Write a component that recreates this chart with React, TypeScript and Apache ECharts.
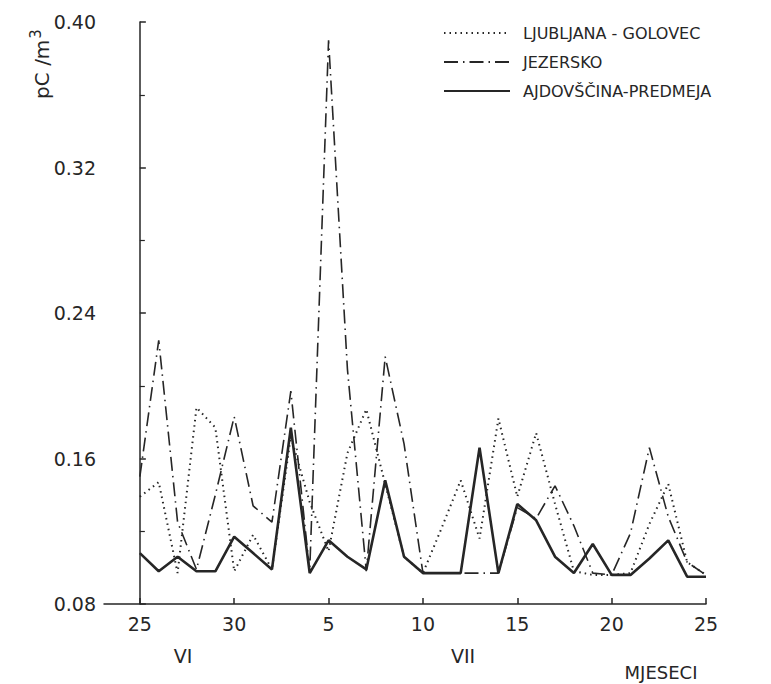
import React, { useEffect, useRef } from "react";
import * as echarts from "echarts";

const DAYS: string[] = [
  "25", "26", "27", "28", "29", "30",
  "1", "2", "3", "4", "5", "6", "7", "8", "9", "10",
  "11", "12", "13", "14", "15", "16", "17", "18", "19", "20",
  "21", "22", "23", "24", "25",
];

const TICK_INDEXES: number[] = [0, 5, 10, 15, 20, 25, 30];

const LJUBLJANA: number[] = [
  0.139, 0.147, 0.097, 0.188, 0.177, 0.098, 0.118, 0.099, 0.172, 0.136,
  0.109, 0.163, 0.187, 0.146, 0.106, 0.097, 0.122, 0.148, 0.116, 0.182,
  0.139, 0.174, 0.135, 0.098, 0.096, 0.096, 0.097, 0.124, 0.146, 0.103,
  0.096,
];

const JEZERSKO: number[] = [
  0.150, 0.225, 0.125, 0.099, 0.140, 0.183, 0.134, 0.125, 0.197, 0.098,
  0.390, 0.209, 0.098, 0.216, 0.168, 0.097, 0.097, 0.097, 0.097, 0.097,
  0.133, 0.127, 0.145, 0.123, 0.097, 0.096, 0.119, 0.166, 0.128, 0.103,
  0.096,
];

const AJDOVSCINA: number[] = [
  0.108, 0.098, 0.106, 0.098, 0.098, 0.117, 0.108, 0.099, 0.177, 0.097,
  0.115, 0.106, 0.099, 0.148, 0.106, 0.097, 0.097, 0.097, 0.166, 0.097,
  0.135, 0.126, 0.106, 0.097, 0.113, 0.096, 0.096, 0.105, 0.115, 0.095,
  0.095,
];

const SERIES_NAMES = ["LJUBLJANA - GOLOVEC", "JEZERSKO", "AJDOVŠČINA-PREDMEJA"];
const MONTHS = ["VI", "VII"];
const X_NAME = "MJESECI";
const Y_NAME_BASE = "pC /m";
const Y_NAME_SUP = "3";

const INK = "#262626";
const FONT = "DejaVu Sans";

const toPairs = (vals: number[]) => vals.map((v, i) => [i, v]);

export default function App() {
  const ref = useRef<HTMLDivElement>(null);

  useEffect(() => {
    if (!ref.current) return;
    const chart = echarts.init(ref.current, undefined, { renderer: "svg" });
    chart.setOption({
      animation: false,
      backgroundColor: "#ffffff",
      grid: { left: 104, right: 65, top: 22, bottom: 80, containLabel: false },
      legend: {
        orient: "vertical",
        left: 438,
        top: 20,
        itemWidth: 66,
        itemHeight: 14,
        itemGap: 13,
        data: SERIES_NAMES,
        itemStyle: { opacity: 0 },
        textStyle: { color: INK, fontSize: 16, fontFamily: FONT, padding: [0, 0, 0, 8] },
      },
      xAxis: {
        type: "value",
        min: -1.9,
        max: 30,
        axisLine: { lineStyle: { color: INK, width: 1.5 } },
        axisTick: {
          show: true,
          inside: true,
          length: 6,
          customValues: TICK_INDEXES,
          lineStyle: { color: INK, width: 1.5 },
        },
        axisLabel: {
          customValues: TICK_INDEXES,
          color: INK,
          fontSize: 19,
          fontFamily: FONT,
          margin: 10,
          formatter: (v: number) => DAYS[Math.round(v)] ?? "",
        },
        splitLine: { show: false },
      },
      yAxis: {
        type: "value",
        min: 0.08,
        max: 0.4,
        interval: 0.08,
        axisLine: { show: true, lineStyle: { color: INK, width: 1.5 } },
        axisTick: { show: true, inside: true, length: 6, lineStyle: { color: INK, width: 1.5 } },
        minorTick: { show: true, splitNumber: 2, length: 5, lineStyle: { color: INK, width: 1.2 } },
        axisLabel: {
          color: INK,
          fontSize: 19,
          fontFamily: FONT,
          margin: 8,
          formatter: (v: number) => v.toFixed(2),
        },
        splitLine: { show: false },
      },
      graphic: [
        {
          type: "text",
          x: 183,
          y: 656,
          style: { text: MONTHS[0], fill: INK, font: `19px "${FONT}"`, textAlign: "center", textVerticalAlign: "middle" },
        },
        {
          type: "text",
          x: 463,
          y: 656,
          style: { text: MONTHS[1], fill: INK, font: `19px "${FONT}"`, textAlign: "center", textVerticalAlign: "middle" },
        },
        {
          type: "text",
          x: 661,
          y: 672,
          style: { text: X_NAME, fill: INK, font: `18px "${FONT}"`, textAlign: "center", textVerticalAlign: "middle" },
        },
        {
          type: "text",
          x: 40,
          y: 64,
          rotation: Math.PI / 2,
          style: {
            text: `{a|${Y_NAME_BASE}}{b|${Y_NAME_SUP}}`,
            textAlign: "center",
            textVerticalAlign: "middle",
            rich: {
              a: { fill: INK, fontSize: 20, fontFamily: FONT, lineHeight: 24, verticalAlign: "bottom" },
              b: { fill: INK, fontSize: 15, fontFamily: FONT, lineHeight: 24, verticalAlign: "top", padding: [0, 0, 10, 1] },
            },
          },
        },
      ],
      series: [
        {
          name: SERIES_NAMES[0],
          type: "line",
          data: toPairs(LJUBLJANA),
          symbol: "none",
          lineStyle: { color: INK, width: 2, type: [1.5, 4] },
          itemStyle: { color: INK },
        },
        {
          name: SERIES_NAMES[1],
          type: "line",
          data: toPairs(JEZERSKO),
          symbol: "none",
          lineStyle: { color: INK, width: 1.6, type: [14, 5, 1.5, 5] },
          itemStyle: { color: INK },
        },
        {
          name: SERIES_NAMES[2],
          type: "line",
          data: toPairs(AJDOVSCINA),
          symbol: "none",
          lineStyle: { color: INK, width: 2.6 },
          itemStyle: { color: INK },
        },
      ],
    });
    return () => chart.dispose();
  }, []);

  return (
    <div
      ref={ref}
      style={{ position: "fixed", left: 0, top: 0, width: 771, height: 684, background: "#fff" }}
    />
  );
}
